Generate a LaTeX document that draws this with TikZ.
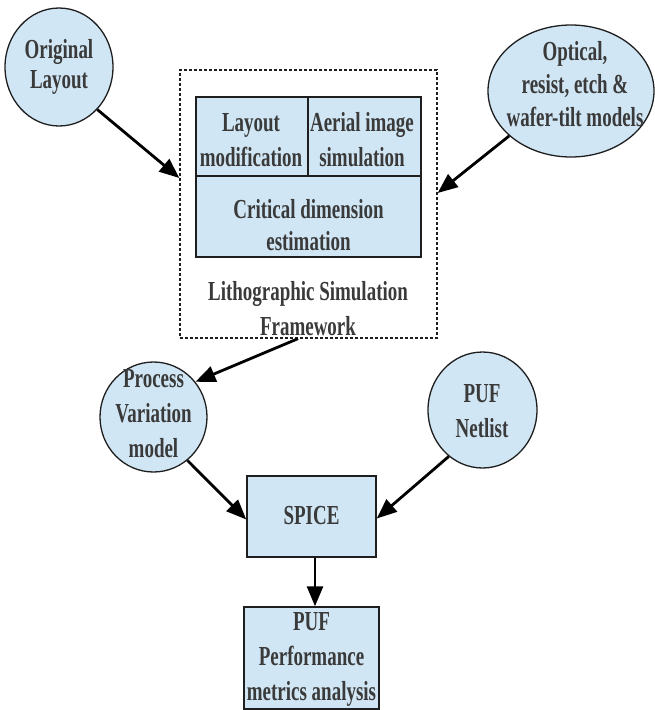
\documentclass[tikz,border=0pt]{standalone}
\usepackage{fontspec}
\newfontfamily\dfont{Liberation Serif}[FakeStretch=0.69]
\usetikzlibrary{shapes.geometric,arrows.meta}
\definecolor{fillb}{HTML}{D0E6F4}
\definecolor{tc}{HTML}{3A3A3A}
\definecolor{bc}{HTML}{1E1E1E}
\begin{document}
\begin{tikzpicture}[x=1pt,y=-1pt,
  txt/.style={font=\dfont\bfseries\fontsize{27.5}{35}\selectfont, text=tc, align=center, inner sep=0pt},
  oval/.style={ellipse, draw=bc, fill=fillb, line width=1.3pt, inner sep=0pt},
  cell/.style={rectangle, draw=bc, fill=fillb, line width=1.5pt, inner sep=0pt},
  arr/.style={line width=2.8pt, -{Triangle[length=20pt,width=16pt]}}]
\useasboundingbox (0,0) rectangle (654,710);
% frame
\node[draw=bc, line width=1.3pt, dash pattern=on 3pt off 2pt, minimum width=257pt, minimum height=268pt, inner sep=0pt] (fr) at (308.5,204) {};
% grid cells
\node[cell, minimum width=112pt, minimum height=79pt] (lm) at (252,136.5) {};
\node[cell, minimum width=113pt, minimum height=79pt] (ai) at (364.5,136.5) {};
\node[cell, minimum width=225pt, minimum height=81pt] (cd) at (308.5,216.5) {};
\node[txt] (lmt) at (251,140) {Layout\\modification};
\node[txt] (ait) at (362,140) {Aerial image\\simulation};
\node[txt, font=\dfont\bfseries\fontsize{27.5}{32}\selectfont] (cdt) at (308.5,225) {Critical dimension\\estimation};
\node[txt] (lit) at (308,309) {Lithographic Simulation\\Framework};
% ovals
\node[oval, minimum width=108pt, minimum height=118pt] (ol) at (59,67) {};
\node[txt, font=\dfont\bfseries\fontsize{27.5}{30}\selectfont] (olt) at (59,67) {Original\\Layout};
\node[oval, minimum width=166pt, minimum height=132pt] (op) at (571,91) {};
\node[txt, font=\dfont\bfseries\fontsize{27.5}{33}\selectfont] (opt) at (575,84) {Optical,\\resist, etch \&\\wafer-tilt models};
\node[oval, minimum width=107pt, minimum height=110pt] (pv) at (153.5,417) {};
\node[txt] (pvt) at (153.5,414) {Process\\Variation\\model};
\node[oval, minimum width=109pt, minimum height=116pt] (nl) at (482.5,410) {};
\node[txt] (nlt) at (482,411.5) {PUF\\Netlist};
% boxes
\node[cell, minimum width=129pt, minimum height=81pt] (sp) at (311.5,516.5) {};
\node[txt] (spt) at (311.5,516) {SPICE};
\node[cell, minimum width=135pt, minimum height=102pt] (pf) at (311.5,658) {};
\node[txt] (pft) at (311.5,659) {PUF\\Performance\\metrics analysis};
% connector ends on frame
\coordinate (f1) at (fr.west |- 0,178);
\coordinate (f2) at (fr.east |- 0,193);
\coordinate (f3) at (fr.south -| 298,0);
% arrows
\draw[arr] (ol.-48) -- (f1);
\draw[arr] (op.216) -- (f2);
\draw[arr] (f3) -- (pv.40);
\draw[arr] (pv.-52) -- ([yshift=-3pt]sp.west);
\draw[arr] (nl.-126) -- ([yshift=-2pt]sp.east);
\draw[arr] (sp.south -| 315,0) -- (pf.north -| 315,0);
\end{tikzpicture}
\end{document}
